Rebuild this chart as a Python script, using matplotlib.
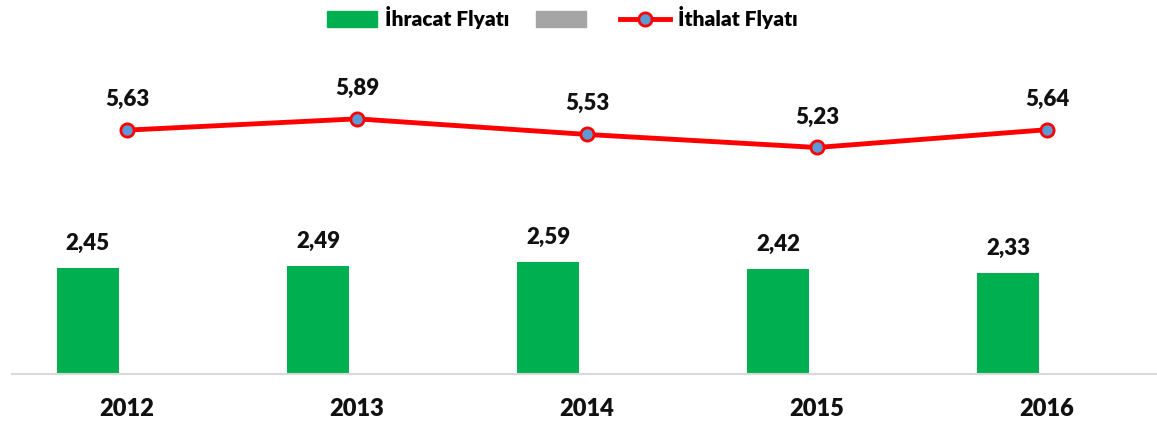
import numpy as np
import matplotlib.pyplot as plt
from matplotlib.patches import Patch
from matplotlib.lines import Line2D

plt.rcParams['font.family'] = ['Lato', 'DejaVu Sans']
plt.rcParams['font.weight'] = 'heavy'

years = ['2012', '2013', '2014', '2015', '2016']
ihracat = [2.45, 2.49, 2.59, 2.42, 2.33]
ithalat = [5.63, 5.89, 5.53, 5.23, 5.64]
bos = [0, 0, 0, 0, 0]

green = '#00B050'
gray = '#A5A5A5'
red = '#FF0000'
blue = '#5B9BD5'

fig = plt.figure(figsize=(11.57, 4.26), dpi=100)
ax = fig.add_axes([0.0104, 0.121, 0.994, 0.815])

x = np.arange(len(years))
w = 0.27
ax.bar(x - 0.17, ihracat, width=w, color=green, zorder=2)
ax.bar(x + 0.17, bos, width=w, color=gray, zorder=2)
ax.plot(x, ithalat, color=red, lw=3.5, marker='o', ms=9.5,
        mfc=blue, mec=red, mew=2, zorder=3)

for xi, v in zip(x, ihracat):
    ax.annotate(('%.2f' % v).replace('.', ','), (xi - 0.17, v), xytext=(0, 18),
                textcoords='offset points', ha='center', va='center',
                fontsize=16, fontweight='heavy', color='#111111')
for xi, v in zip(x, ithalat):
    ax.annotate(('%.2f' % v).replace('.', ','), (xi, v), xytext=(0, 22),
                textcoords='offset points', ha='center', va='center',
                fontsize=16, fontweight='heavy', color='#111111')

ax.set_xlim(-0.5, len(years) - 0.5)
ax.set_ylim(0, 8)
ax.set_xticks(x)
ax.set_xticklabels(years, fontsize=17, fontweight='heavy', color='#111111')
ax.tick_params(axis='x', length=0, pad=17)
ax.set_yticks([])
for s in ['top', 'right', 'left']:
    ax.spines[s].set_visible(False)
ax.spines['bottom'].set_color('#D9D9D9')
ax.spines['bottom'].set_linewidth(1.5)

handles = [Patch(color=green), Patch(color=gray),
           Line2D([], [], color=red, lw=3.5, marker='o', ms=9.5, mfc=blue, mec=red, mew=2)]
labels = ['İhracat Flyatı', '', 'İthalat Flyatı']
fig.legend(handles, labels, loc='center', bbox_to_anchor=(0.486, 0.958), ncol=3,
           frameon=False, fontsize=15, handlelength=2.4, handleheight=0.8,
           columnspacing=1.3, handletextpad=0.35)

fig.savefig('out.png', dpi=100)
